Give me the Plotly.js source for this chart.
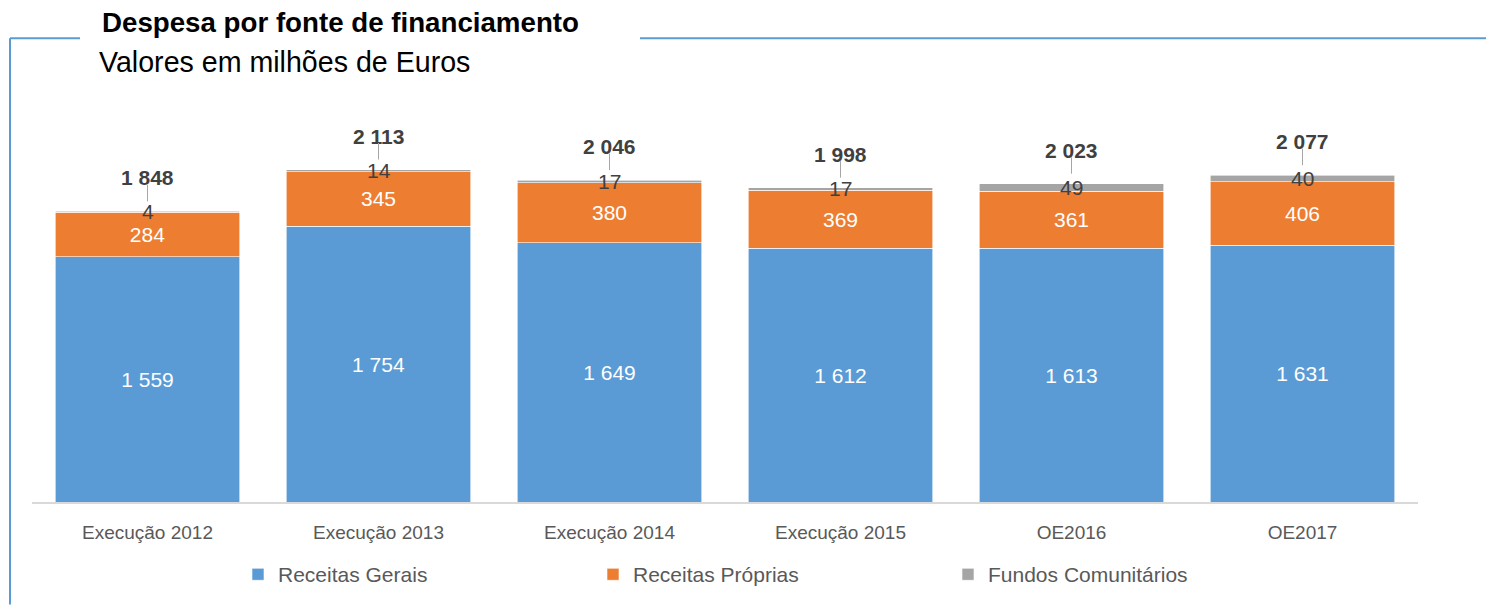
<!DOCTYPE html>
<html>
<head>
<meta charset="utf-8">
<script src="https://cdn.plot.ly/plotly-3.0.1.min.js"></script>
<style>html,body{margin:0;padding:0;background:#fff;}#chart{width:1486px;height:607px;}</style>
</head>
<body>
<div id="chart"></div>
<script>
const categories = ["Execução 2012", "Execução 2013", "Execução 2014", "Execução 2015", "OE2016", "OE2017"];
const receitasGerais = [1559, 1754, 1649, 1612, 1613, 1631];
const receitasProprias = [284, 345, 380, 369, 361, 406];
const fundosComunitarios = [4, 14, 17, 17, 49, 40];
const totals = [1848, 2113, 2046, 1998, 2023, 2077];

const W = 1486, H = 607;
const M = {l: 32, r: 68, t: 100, b: 103};
const plotW = W - M.l - M.r, plotH = H - M.t - M.b;
const px2x = p => (p - M.l) / plotW;
const px2y = p => (H - M.b - p) / plotH;

const FONT = "Liberation Sans, Arial, sans-serif";
const fmt = v => v.toString().replace(/\B(?=(\d{3})+(?!\d))/g, " ");

const barCommon = {
  type: "bar", x: categories, textposition: "inside", insidetextanchor: "middle",
  textangle: 0, constraintext: "none", cliponaxis: false
};
const traces = [
  Object.assign({}, barCommon, {
    name: "Receitas Gerais", y: receitasGerais,
    text: receitasGerais.map(fmt),
    marker: {color: "#5b9bd5", line: {color: "#ffffff", width: 0.6}},
    insidetextfont: {family: FONT, size: 21, color: "#ffffff"}
  }),
  Object.assign({}, barCommon, {
    name: "Receitas Próprias", y: receitasProprias,
    text: receitasProprias.map(fmt),
    marker: {color: "#ed7d31", line: {color: "#ffffff", width: 0.6}},
    insidetextfont: {family: FONT, size: 21, color: "#ffffff"}
  }),
  Object.assign({}, barCommon, {
    name: "Fundos Comunitários", y: fundosComunitarios,
    textposition: "none",
    marker: {color: "#a5a5a5", line: {color: "#ffffff", width: 0.6}}
  })
];

const annotations = [];
categories.forEach((c, i) => {
  const top = receitasGerais[i] + receitasProprias[i] + fundosComunitarios[i];
  annotations.push({
    x: c, y: top, xref: "x", yref: "y", text: "<b>" + fmt(totals[i]) + "</b>",
    showarrow: false, yanchor: "bottom", yshift: 20,
    font: {family: FONT, size: 21, color: "#404040"}
  });
  annotations.push({
    x: c, y: top - fundosComunitarios[i] / 2, xref: "x", yref: "y", text: fmt(fundosComunitarios[i]),
    showarrow: false, yanchor: "middle", yshift: 0,
    font: {family: FONT, size: 21, color: "#404040"}
  });
  annotations.push({
    x: c, y: top, xref: "x", yref: "y", text: "",
    showarrow: true, arrowhead: 0, arrowwidth: 1, arrowcolor: "#a6a6a6",
    ax: 0, ay: -18, yshift: 10, standoff: 0, startstandoff: 0
  });
});
annotations.push({
  xref: "paper", yref: "paper", x: px2x(100), y: px2y(22), xanchor: "left", yanchor: "middle",
  text: "<b>Despesa por fonte de financiamento</b>", showarrow: false,
  font: {family: FONT, size: 27.7, color: "#000000"}
});
annotations.push({
  xref: "paper", yref: "paper", x: px2x(97), y: px2y(62), xanchor: "left", yanchor: "middle",
  text: "Valores em milhões de Euros", showarrow: false,
  font: {family: FONT, size: 28.6, color: "#000000"}
});

const frameColor = "#5b9bd5";
const shapes = [
  {type: "line", xref: "paper", yref: "paper", x0: px2x(10), x1: px2x(80), y0: px2y(38), y1: px2y(38), line: {color: frameColor, width: 2}},
  {type: "line", xref: "paper", yref: "paper", x0: px2x(640), x1: px2x(1486), y0: px2y(38), y1: px2y(38), line: {color: frameColor, width: 2}},
  {type: "line", xref: "paper", yref: "paper", x0: px2x(10), x1: px2x(10), y0: px2y(38), y1: px2y(607), line: {color: frameColor, width: 2}}
];

const layout = {
  width: W, height: H, margin: M,
  paper_bgcolor: "#ffffff", plot_bgcolor: "#ffffff",
  barmode: "stack", bargap: 0.2,
  separators: ", ",
  showlegend: true,
  legend: {
    orientation: "h", x: px2x(238), xanchor: "left", y: px2y(577), yanchor: "middle",
    font: {family: FONT, size: 21, color: "#595959"},
    entrywidth: 310, entrywidthmode: "pixels", traceorder: "normal"
  },
  xaxis: {
    type: "category", showline: true, linecolor: "#d9d9d9", linewidth: 2,
    ticks: "", ticklabelstandoff: 12,
    tickfont: {family: FONT, size: 19, color: "#595959"},
    showgrid: false, zeroline: false, fixedrange: true
  },
  yaxis: {
    range: [0, 2555], visible: false, showgrid: false, zeroline: false, fixedrange: true
  },
  annotations: annotations,
  shapes: shapes,
  font: {family: FONT}
};

Plotly.newPlot("chart", traces, layout, {displayModeBar: false, staticPlot: true});
</script>
</body>
</html>
